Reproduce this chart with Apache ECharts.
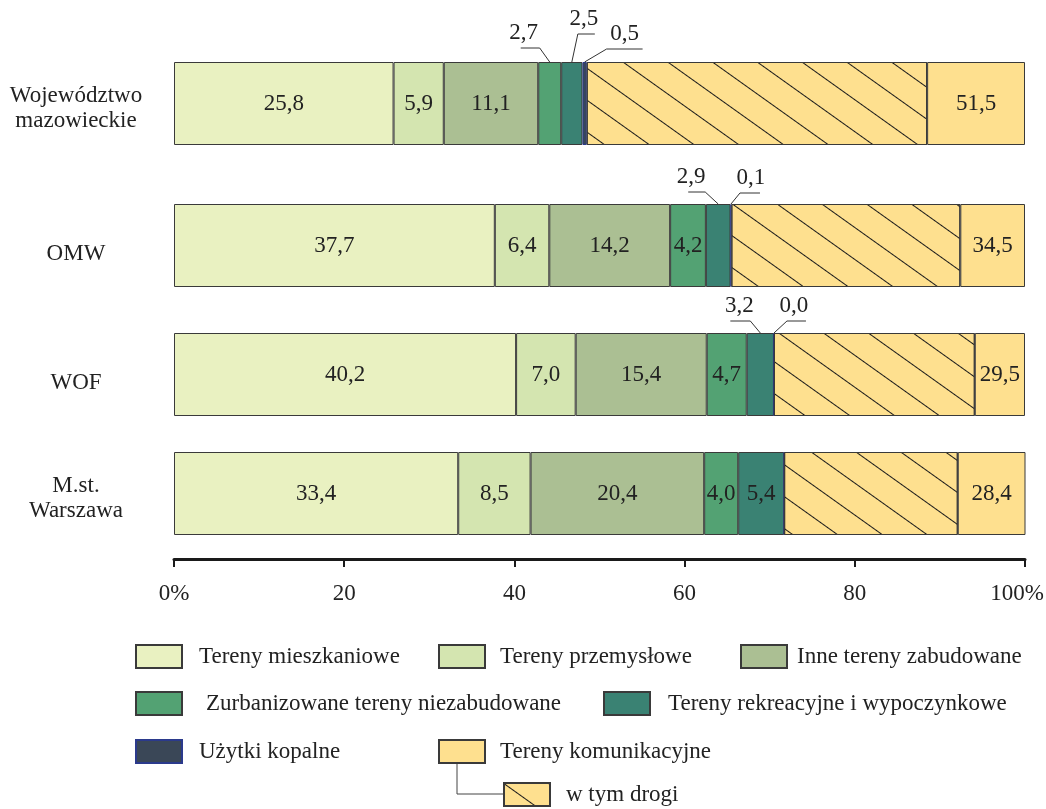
<!DOCTYPE html>
<html><head><meta charset="utf-8">
<script src="https://cdn.jsdelivr.net/npm/echarts/dist/echarts.min.js"></script>
<style>html,body{margin:0;padding:0;background:#fff}#c{width:1046px;height:809px}</style>
</head><body><div id="c"></div>
<script>
// ---------- DATA ----------
const categories = ['Województwo\nmazowieckie', 'OMW', 'WOF', 'M.st.\nWarszawa'];
const seriesNames = ['Tereny mieszkaniowe', 'Tereny przemysłowe', 'Inne tereny zabudowane',
  'Zurbanizowane tereny niezabudowane', 'Tereny rekreacyjne i wypoczynkowe', 'Użytki kopalne',
  'w tym drogi', 'Tereny komunikacyjne'];
const mieszkaniowe   = [25.8, 37.7, 40.2, 33.4];
const przemyslowe    = [5.9, 6.4, 7.0, 8.5];
const inneZabudowane = [11.1, 14.2, 15.4, 20.4];
const zurbanizowane  = [2.7, 4.2, 4.7, 4.0];
const rekreacyjne    = [2.5, 2.9, 3.2, 5.4];
const kopalne        = [0.5, 0.1, 0.0, 0.0];
const komunikacyjne  = [51.5, 34.5, 29.5, 28.4];  // total
const drogi          = [40.0, 26.9, 23.6, 20.4];  // of which roads (estimated from hatch)
const tickLabels = ['0%', '20', '40', '60', '80', '100%'];

// ---------- STYLE ----------
const FONT = '"Liberation Serif", "Times New Roman", serif';
const colors = ['#E9F1C1', '#D4E5B0', '#ABBF93', '#53A273', '#3A8273', '#3A4757', '#FEE08F', '#FEE08F'];
const borderColors = ['#3a3a3a', '#3a3a3a', '#3a3a3a', '#3a3a3a', '#3a3a3a', '#2b3a8c', '#3a3a3a', '#3a3a3a'];
const gridTops = [62, 204, 333, 452];
const barH = 83;
// callout styling: [category, series, elbowDx, elbowDy, runDx, textDx]
const callouts = [
  [0, 3, -10, 14, -19, -26],
  [0, 4, 6, 28, 17, 12],
  [0, 5, 22, 13, 36, 40],
  [1, 4, -13, 12, -17, -27],
  [1, 5, 9, 11, 20, 20],
  [2, 4, -10, 12, -20, -21],
  [2, 5, 13, 12, 19, 20]
];
const legendPos = [[135, 644], [438, 644], [740, 644], [135, 691], [603, 691], [135, 739], [438, 739], [503, 782]];
const legendTextGap = [12, 10, 5, 19, 13, 12, 10, 11];
const legendOrder = [0, 1, 2, 3, 4, 5, 7, 6];

const fmt = v => v.toFixed(1).replace('.', ',');
const rest = komunikacyjne.map((t, i) => +(t - drogi[i]).toFixed(1));
const values = [mieszkaniowe, przemyslowe, inneZabudowane, zurbanizowane, rekreacyjne, kopalne, drogi, rest];
const isCallout = (c, s) => callouts.some(k => k[0] === c && k[1] === s);

const catText = {fontFamily: FONT, fontSize: 23, color: '#222', align: 'center'};
const catFormatter = v => {
  const lines = v.split('\n');
  if (lines.length === 1) return '{s|' + v + '}';
  return lines.map((l, i) => '{' + (i === 0 ? 'f' : 'n') + '|' + l + '}').join('\n');
};

const grids = [], xAxes = [], yAxes = [], series = [];
categories.forEach((cat, gi) => {
  grids.push({left: 174, right: 21, top: gridTops[gi], height: barH, containLabel: false, outerBoundsMode: 'none'});
  const last = gi === categories.length - 1;
  xAxes.push({
    type: 'value', gridIndex: gi, min: 0, max: 100, interval: 20, show: last,
    offset: 24,
    axisLine: {show: true, lineStyle: {color: '#1a1a1a', width: 3}},
    axisTick: {show: true, length: 8, lineStyle: {color: '#1a1a1a', width: 2}},
    splitLine: {show: false},
    axisLabel: {margin: 23, fontFamily: FONT, fontSize: 23, color: '#222',
      formatter: v => v === 100 ? '{m|' + tickLabels[5] + '}' : tickLabels[Math.round(v / 20)],
      rich: {m: {fontFamily: FONT, fontSize: 23, color: '#222', padding: [0, 16, 0, 0]}},
      showMinLabel: true, showMaxLabel: true, hideOverlap: false}
  });
  yAxes.push({
    type: 'category', gridIndex: gi, data: [cat], inverse: true,
    axisLine: {show: false}, axisTick: {show: false},
    axisLabel: {margin: 98, align: 'center', fontFamily: FONT, fontSize: 23, color: '#222',
      formatter: catFormatter,
      rich: {
        s: Object.assign({}, catText, {padding: [16, 0, 0, 0]}),
        f: Object.assign({}, catText, {lineHeight: 35}),
        n: Object.assign({}, catText, {lineHeight: 16})
      }}
  });
  values.forEach((arr, si) => {
    const v = arr[gi];
    const showLabel = si !== 6 && v > 0 && !isCallout(gi, si);
    const item = {
      type: 'bar', name: seriesNames[si], xAxisIndex: gi, yAxisIndex: gi, stack: 'g' + gi,
      barWidth: '100%', data: [v], silent: true, animation: false,
      itemStyle: {color: colors[si], borderColor: borderColors[si], borderWidth: 1},
      label: {show: showLabel, position: 'inside', fontFamily: FONT, fontSize: 23, color: '#222',
        textBorderWidth: 0,
        formatter: () => fmt(si === 7 ? komunikacyjne[gi] : v)}
    };
    if (si === 6) {
      item.itemStyle.decal = {symbol: 'rect', symbolSize: 1, color: '#1a1a1a',
        dashArrayX: [1, 0], dashArrayY: [1, 25], rotation: 0.62};
    }
    series.push(item);
  });
  // callout leader lines for this category
  const items = callouts.filter(k => k[0] === gi).map(k => {
    let start = 0;
    for (let s = 0; s < k[1]; s++) start += values[s][gi];
    return {value: [start + values[k[1]][gi] / 2, 0], v: values[k[1]][gi], ex: k[2], ey: k[3], hx: k[4], tx: k[5]};
  });
  if (items.length) {
    series.push({
      type: 'custom', xAxisIndex: gi, yAxisIndex: gi, silent: true, z: 10, animation: false,
      data: items.map(d => d.value), encode: {x: 0, y: 1},
      renderItem: (params, api) => {
        const d = items[params.dataIndex];
        const p = api.coord([api.value(0), api.value(1)]);
        const bw = api.size([0, 1])[1];
        const top = p[1] - bw / 2;
        const ex = p[0] + d.ex, ey = top - d.ey, hx = ex + d.hx;
        return {type: 'group', children: [
          {type: 'polyline', shape: {points: [[p[0], top], [ex, ey], [hx, ey]]},
            style: {stroke: '#333', lineWidth: 1, fill: null}},
          {type: 'text', style: {text: fmt(d.v), x: p[0] + d.tx, y: ey - 4,
            align: 'center', textAlign: 'center', verticalAlign: 'bottom', textVerticalAlign: 'bottom',
            font: '23px ' + FONT, fill: '#222'}}
        ]};
      }
    });
  }
});

const legends = legendOrder.map((si, k) => ({
  left: legendPos[k][0], top: legendPos[k][1], padding: 0, orient: 'horizontal',
  itemWidth: 46, itemHeight: 23, selectedMode: false, icon: 'rect',
  data: [seriesNames[si]],
  textStyle: {fontFamily: FONT, fontSize: 23, color: '#222', padding: [0, 0, 0, legendTextGap[k]]}
}));

const chart = echarts.init(document.getElementById('c'), null, {renderer: 'canvas'});
chart.setOption({
  animation: false,
  backgroundColor: '#fff',
  grid: grids, xAxis: xAxes, yAxis: yAxes, series: series,
  legend: legends,
  graphic: [{type: 'polyline', shape: {points: [[457, 762], [457, 794], [503, 794]]},
    style: {stroke: '#444', lineWidth: 1, fill: null}}]
});
</script></body></html>
